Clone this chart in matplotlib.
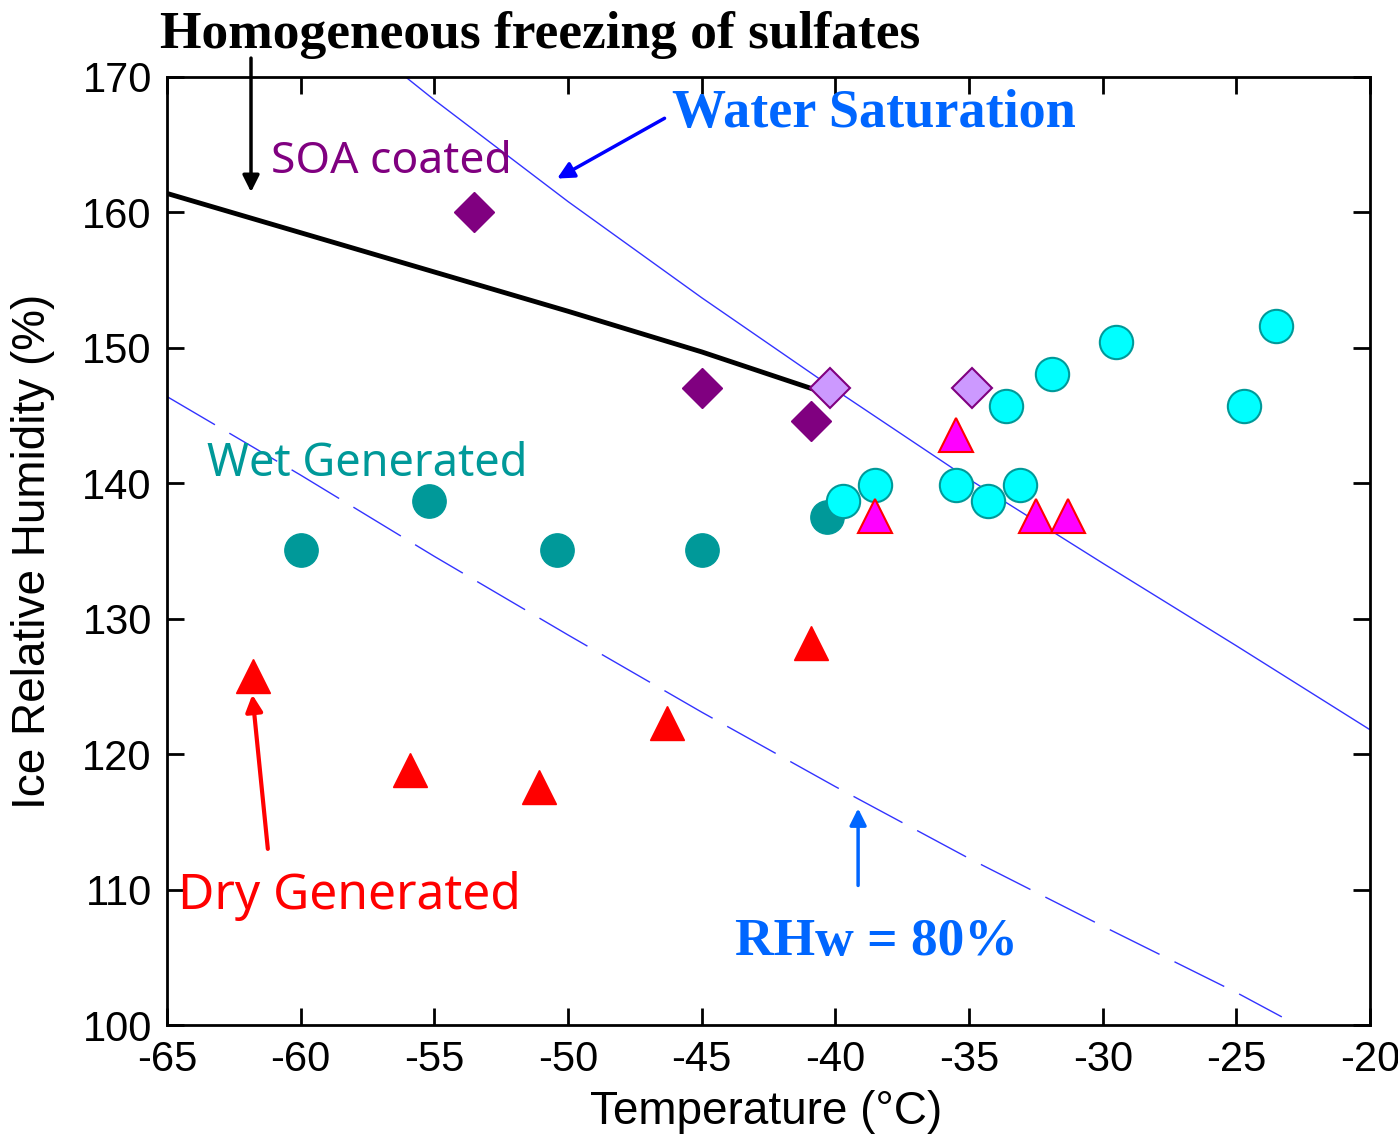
import matplotlib.pyplot as plt

plt.rcParams['axes.unicode_minus'] = False

# data
soa_t = [-53.5, -45.0, -40.9]
soa_rh = [160.0, 147.0, 144.6]
soa_light_t = [-40.2, -34.9]
soa_light_rh = [147.0, 147.0]

wet_t = [-60.0, -55.2, -50.4, -45.0, -40.3]
wet_rh = [135.1, 138.7, 135.1, 135.1, 137.5]
wet_light_t = [-39.7, -38.5, -35.5, -34.3, -33.1, -33.6, -31.9, -29.5, -24.7, -23.5]
wet_light_rh = [138.7, 139.9, 139.9, 138.7, 139.9, 145.7, 148.1, 150.4, 145.7, 151.6]

dry_t = [-61.8, -55.9, -51.1, -46.3, -40.9]
dry_rh = [125.8, 118.8, 117.6, 122.3, 128.2]
dry_light_t = [-35.5, -38.5, -32.5, -31.3]
dry_light_rh = [143.6, 137.6, 137.6, 137.6]

homog_t = [-65, -60, -55, -50, -45, -40.9]
homog_rh = [161.4, 158.5, 155.6, 152.7, 149.7, 147.0]

wsat_t = [-60, -55, -50, -45, -40, -35, -30, -25, -20]
wsat_rh = [176.2, 168.3, 160.8, 153.7, 146.9, 140.3, 134.1, 128.0, 121.8]

rhw80_t = [-65, -60, -55, -50, -45, -40, -35, -30, -25, -23.3]
rhw80_rh = [146.4, 140.6, 134.6, 128.8, 123.1, 117.6, 112.3, 107.3, 102.4, 100.6]

xticks = [-65, -60, -55, -50, -45, -40, -35, -30, -25, -20]
yticks = [100, 110, 120, 130, 140, 150, 160, 170]

fig = plt.figure(figsize=(13.98, 11.37), dpi=100)
ax = fig.add_axes([0.1195, 0.0985, 0.8605, 0.8338])

blue_line = '#3333ff'
ax.plot(wsat_t, wsat_rh, color=blue_line, lw=1.0, zorder=2)
ax.plot(rhw80_t, rhw80_rh, color=blue_line, lw=1.0, dashes=(40, 12), zorder=2)
ax.plot(homog_t, homog_rh, color='black', lw=3.5, zorder=2)

ms = 24
ax.plot(soa_t, soa_rh, 'D', ms=20, mfc='#800080', mec='#800080', zorder=3)
ax.plot(soa_light_t, soa_light_rh, 'D', ms=20, mfc='#cc99ff', mec='#800080', mew=1.5, zorder=3)
ax.plot(wet_t, wet_rh, 'o', ms=ms, mfc='#009999', mec='#009999', zorder=3)
ax.plot(wet_light_t, wet_light_rh, 'o', ms=ms, mfc='#00ffff', mec='#009999', mew=1.5, zorder=4)
ax.plot(dry_t, dry_rh, '^', ms=ms, mfc='#ff0000', mec='#ff0000', zorder=3)
ax.plot(dry_light_t, dry_light_rh, '^', ms=ms, mfc='#ff00ff', mec='#ff0000', mew=1.5, zorder=5)

ax.set_xlim(-65, -20)
ax.set_ylim(100, 170)
ax.set_xticks(xticks)
ax.set_yticks(yticks)
ax.tick_params(direction='in', length=12, width=2, top=True, right=True,
               labelsize=30, pad=11)
for lab in ax.get_xticklabels() + ax.get_yticklabels():
    lab.set_family('Liberation Sans')
for sp in ax.spines.values():
    sp.set_linewidth(2)

ax.set_xlabel('Temperature (°C)', fontsize=33, family='Liberation Sans')
ax.set_ylabel('Ice Relative Humidity (%)', fontsize=33, family='Liberation Sans')
ax.xaxis.set_label_coords(0.498, -0.069)
ax.yaxis.set_label_coords(-0.093, 0.5)

serif = 'Liberation Serif'
fig.text(160 / 1398, 1 - 35 / 1137, 'Homogeneous freezing of sulfates', fontsize=38.5,
         family=serif, weight='bold', ha='left', va='center')
ax.annotate('', xy=(-61.86, 161.3), xytext=(-61.86, 171.6), annotation_clip=False,
            arrowprops=dict(arrowstyle='-|>', color='black', lw=2.5, mutation_scale=25))

ax.text(-61.1, 163.7, 'SOA coated', fontsize=32, family='Noto Sans', color='#800080',
        ha='left', va='center')

ax.text(-46.1, 167.3, 'Water Saturation', fontsize=39, family=serif, weight='bold',
        color='#0066ff', ha='left', va='center')
ax.annotate('', xy=(-50.5, 162.4), xytext=(-46.3, 167.05),
            arrowprops=dict(arrowstyle='-|>', color='#0000ff', lw=2.5, mutation_scale=25))

ax.text(-63.5, 141.4, 'Wet Generated', fontsize=32.5, family='Noto Sans', color='#009999',
        ha='left', va='center')

ax.text(-64.6, 109.55, 'Dry Generated', fontsize=35.8, family='Noto Sans', color='#ff0000',
        ha='left', va='center')
ax.annotate('', xy=(-61.82, 124.6), xytext=(-61.22, 112.8),
            arrowprops=dict(arrowstyle='-|>', color='#ff0000', lw=3, mutation_scale=25))

ax.text(-38.45, 106.15, 'RHw = 80%', fontsize=38.5, family=serif, weight='bold',
        color='#0066ff', ha='center', va='center')
ax.annotate('', xy=(-39.15, 116.2), xytext=(-39.15, 110.1),
            arrowprops=dict(arrowstyle='-|>', color='#0066ff', lw=2.5, mutation_scale=25))

fig.savefig('out.png', dpi=100)
